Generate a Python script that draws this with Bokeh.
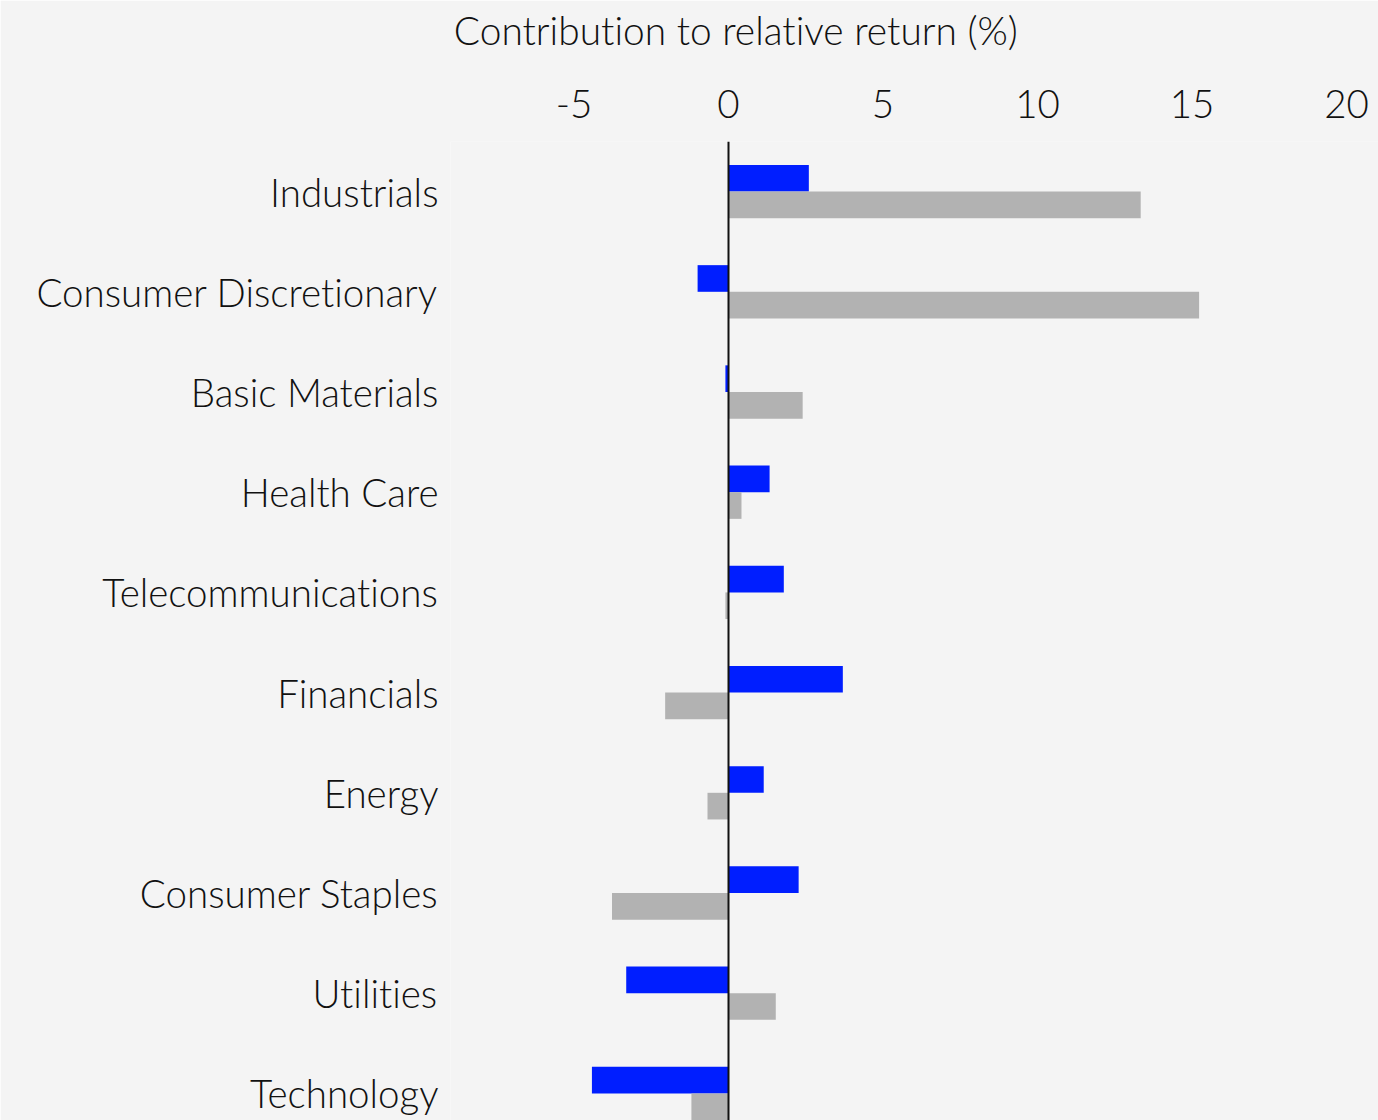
from bokeh.plotting import figure
from bokeh.models import ColumnDataSource, Span, FixedTicker, LinearAxis
from bokeh.embed import file_html
from bokeh.resources import INLINE

sectors = ["Industrials", "Consumer Discretionary", "Basic Materials", "Health Care",
           "Telecommunications", "Financials", "Energy", "Consumer Staples",
           "Utilities", "Technology"]
blue_values = [2.6, -1.0, -0.1, 1.33, 1.79, 3.7, 1.14, 2.27, -3.31, -4.42]
grey_values = [13.34, 15.23, 2.4, 0.42, -0.1, -2.05, -0.68, -3.77, 1.53, -1.2]
x_ticks = [-5, 0, 5, 10, 15, 20]
x_tick_labels = ["-5", "0", "5", "10", "15", "20"]
title_text = "Contribution to relative return (%)"

FONT = "Lato Light"
BG = "#f4f4f4"
BLUE = "#001eff"
GREY = "#b2b2b2"
TXT = "#111111"

W, H = 1378, 1120
border_top = 141
border_left = 450
px_per_unit = 30.9
zero_px = 728 - border_left
frame_w = W - border_left
x_start = -zero_px / px_per_unit
x_end = (frame_w - zero_px) / px_per_unit
band_px = 100.2
frame_h = H - border_top
y_end = -0.5 + frame_h / band_px

bar_h = 0.266
idx = list(range(len(sectors)))
src_blue = ColumnDataSource(dict(y=[i - bar_h / 2 for i in idx], right=blue_values))
src_grey = ColumnDataSource(dict(y=[i + bar_h / 2 for i in idx], right=grey_values))

p = figure(width=W, height=H, x_range=(x_start, x_end), y_range=(y_end, -0.5),
           x_axis_location="above", output_backend="svg", toolbar_location=None,
           min_border_left=border_left, min_border_right=0, min_border_bottom=0,
           min_border_top=border_top)

p.background_fill_color = BG
p.border_fill_color = BG
p.outline_line_color = None
p.grid.visible = False

p.hbar(y="y", left=0, right="right", height=bar_h, source=src_blue,
       fill_color=BLUE, line_color=None)
p.hbar(y="y", left=0, right="right", height=bar_h, source=src_grey,
       fill_color=GREY, line_color=None)

p.add_layout(Span(location=0, dimension="height", line_color=TXT, line_width=2))


def style_axis(ax, standoff, size="38.5px"):
    ax.axis_line_color = None
    ax.major_tick_line_color = None
    ax.minor_tick_line_color = None
    ax.major_label_text_font = FONT
    ax.major_label_text_font_size = size
    ax.major_label_text_color = TXT
    ax.major_label_standoff = standoff


xa = p.xaxis[0]
xa.ticker = FixedTicker(ticks=x_ticks)
xa.major_label_overrides = {t: s for t, s in zip(x_ticks, x_tick_labels)}
style_axis(xa, 18)

# the chart's title line, set off-centre like the reference (left edge near x=455)
title_pos = (736 - 728) / px_per_unit
ta = LinearAxis(ticker=FixedTicker(ticks=[title_pos]),
                major_label_overrides={title_pos: title_text})
style_axis(ta, 28, "38.9px")
p.add_layout(ta, "above")

ya = p.yaxis[0]
ya.ticker = FixedTicker(ticks=idx)
ya.major_label_overrides = {i: s for i, s in enumerate(sectors)}
style_axis(ya, 6)

html = file_html(p, INLINE)
html = html.replace(
    "</head>",
    "<style>html, body { font-variant-ligatures: none; "
    "font-feature-settings: \"liga\" 0, \"clig\" 0; }</style></head>", 1)
open("out.html", "w").write(html)
